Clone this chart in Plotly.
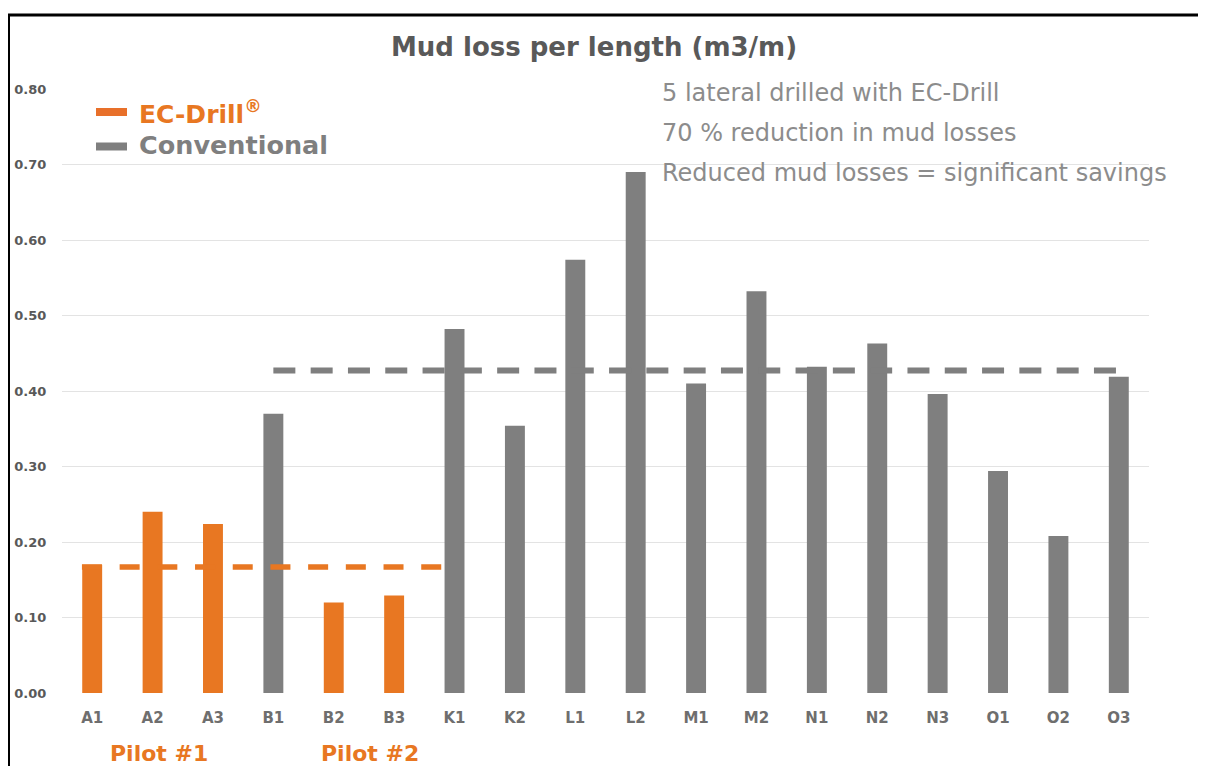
import plotly.graph_objects as go

# ---- data ----
categories = ["A1", "A2", "A3", "B1", "B2", "B3", "K1", "K2", "L1", "L2",
              "M1", "M2", "N1", "N2", "N3", "O1", "O2", "O3"]
mud_loss = [0.170, 0.240, 0.224, 0.370, 0.120, 0.129, 0.482, 0.354, 0.574, 0.690,
            0.410, 0.532, 0.432, 0.463, 0.396, 0.294, 0.208, 0.419]
method = ["EC", "EC", "EC", "Conv", "EC", "EC", "Conv", "Conv", "Conv", "Conv",
          "Conv", "Conv", "Conv", "Conv", "Conv", "Conv", "Conv", "Conv"]
ec_average = 0.167
conv_average = 0.427
y_ticks = [0.0, 0.1, 0.2, 0.3, 0.4, 0.5, 0.6, 0.7, 0.8]
notes = ["5 lateral drilled with EC-Drill",
         "70 % reduction in mud losses",
         "Reduced mud losses = significant savings"]

ORANGE = "#E87722"
GREY = "#7F7F7F"

OFF = 8  # page body margin
W, H = 1206 - 2 * OFF, 774 - 2 * OFF
L = 62 - OFF
T = 89 - OFF
R = W - (1149 - OFF)
B = H - (693 - OFF)
PW, PH = W - L - R, H - T - B


def px2x(px):
    return (px - OFF - L) / PW


def px2y(py):
    return (H - B - (py - OFF)) / PH


xs = list(range(len(categories)))
colors = [ORANGE if m == "EC" else GREY for m in method]

fig = go.Figure()
fig.add_trace(go.Bar(x=xs, y=mud_loss, marker_color=colors, width=0.33,
                     marker_line_width=0, showlegend=False))

ec_idx = [i for i, m in enumerate(method) if m == "EC"]
conv_idx = [i for i, m in enumerate(method) if m == "Conv"]
ec_x = [ec_idx[0] - 0.17, ec_idx[-1] + 1]
conv_x = [conv_idx[0], conv_idx[-1]]

fig.add_trace(go.Scatter(x=ec_x, y=[ec_average] * 2, mode="lines",
                         line=dict(color=ORANGE, width=5.5, dash="20px,17.7px"),
                         showlegend=False, name="EC-Drill®"))
fig.add_trace(go.Scatter(x=conv_x, y=[conv_average] * 2, mode="lines",
                         line=dict(color=GREY, width=6, dash="22px,15.3px"),
                         showlegend=False, name="Conventional"))

shapes = [
    # frame
    dict(type="rect", xref="paper", yref="paper",
         x0=px2x(8.5), x1=px2x(1230), y0=px2y(800), y1=px2y(15),
         line=dict(color="black", width=3), fillcolor="rgba(0,0,0,0)", layer="above"),
    # legend symbols
    dict(type="line", xref="paper", yref="paper",
         x0=px2x(96), x1=px2x(127), y0=px2y(112), y1=px2y(112),
         line=dict(color="#E8702A", width=8)),
    dict(type="line", xref="paper", yref="paper",
         x0=px2x(96), x1=px2x(127), y0=px2y(146.5), y1=px2y(146.5),
         line=dict(color=GREY, width=8)),
]

annotations = [
    dict(text="<b>EC-Drill<sup>®</sup></b>", xref="paper", yref="paper",
         x=px2x(137), y=px2y(112), xanchor="left", yanchor="middle", showarrow=False,
         font=dict(family="DejaVu Sans", size=25, color=ORANGE)),
    dict(text="<b>Conventional</b>", xref="paper", yref="paper",
         x=px2x(137), y=px2y(145), xanchor="left", yanchor="middle", showarrow=False,
         font=dict(family="DejaVu Sans", size=25.5, color=GREY)),
    dict(text="<b>Pilot #1</b>", xref="x", yref="paper", x=1.1, y=px2y(753),
         xanchor="center", yanchor="middle", showarrow=False,
         font=dict(family="DejaVu Sans", size=22, color=ORANGE)),
    dict(text="<b>Pilot #2</b>", xref="x", yref="paper", x=4.6, y=px2y(753),
         xanchor="center", yanchor="middle", showarrow=False,
         font=dict(family="DejaVu Sans", size=22, color=ORANGE)),
]
for note, py in zip(notes, [93, 133, 173]):
    annotations.append(dict(text=note, xref="paper", yref="paper",
                            x=px2x(660), y=px2y(py), xanchor="left", yanchor="middle",
                            showarrow=False,
                            font=dict(family="DejaVu Sans", size=24, color="#8C8C8C")))

fig.update_layout(
    width=W, height=H,
    margin=dict(l=L, r=R, t=T, b=B, pad=0, autoexpand=False),
    paper_bgcolor="white", plot_bgcolor="white",
    title=dict(text="<b>Mud loss per length (m3/m)</b>", xref="container", yref="container",
               x=(594 - OFF) / W, y=1 - (47 - OFF) / H, xanchor="center", yanchor="middle",
               font=dict(family="DejaVu Sans", size=26, color="#595959")),
    xaxis=dict(range=[-0.5, 17.5], tickmode="array", tickvals=xs,
               ticktext=[f"<b>{c}</b>" for c in categories],
               showgrid=False, zeroline=False, showline=False, automargin=False,
               ticks="outside", ticklen=11, tickcolor="rgba(0,0,0,0)",
               tickfont=dict(family="DejaVu Sans", size=15, color="#6E6E6E"),
               fixedrange=True),
    yaxis=dict(range=[0, 0.8], tickmode="array", tickvals=y_ticks,
               ticktext=[f"<b>{v:.2f}</b>" for v in y_ticks],
               showgrid=True, gridcolor="#E3E3E3", gridwidth=1,
               zeroline=False, showline=False, automargin=False,
               ticks="outside", ticklen=12, tickcolor="rgba(0,0,0,0)",
               tickfont=dict(family="DejaVu Sans", size=13, color="#595959"),
               fixedrange=True),
    shapes=shapes, annotations=annotations,
)

fig.write_html("out.html")
